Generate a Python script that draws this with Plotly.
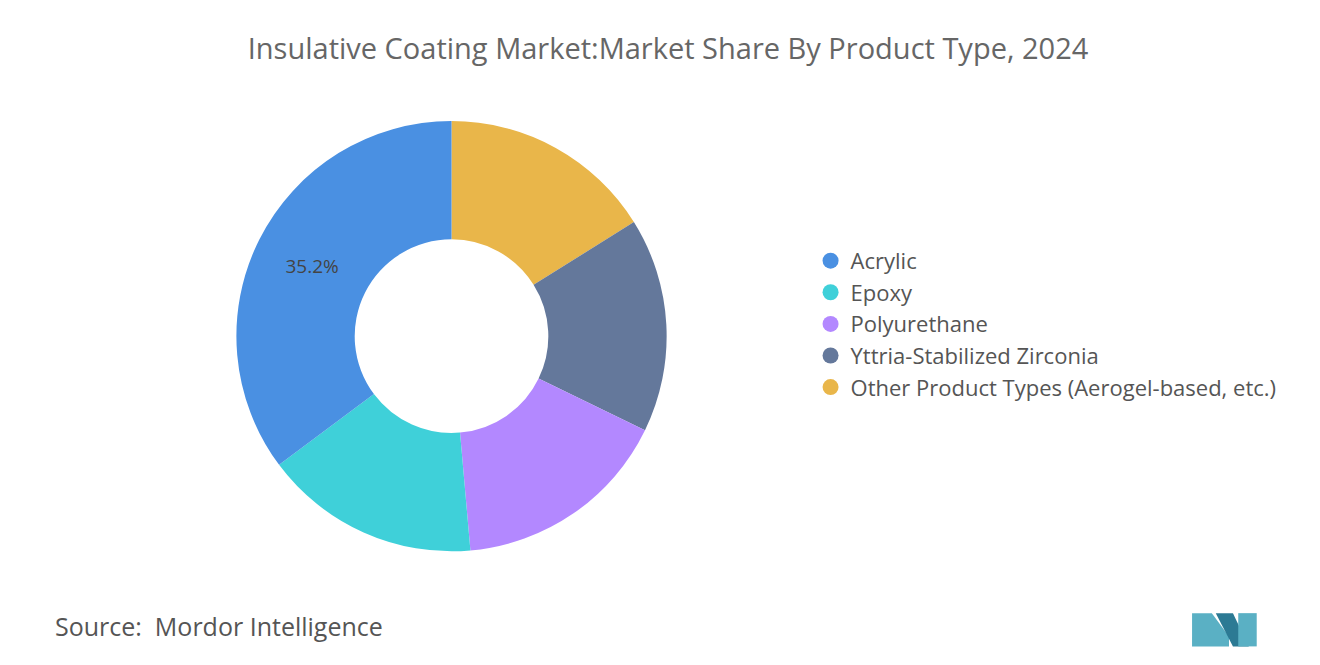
import plotly.graph_objects as go

labels = ["Acrylic", "Epoxy", "Polyurethane", "Yttria-Stabilized Zirconia",
          "Other Product Types (Aerogel-based, etc.)"]
values = [35.2, 16.2, 16.4, 16.1, 16.1]
colors = ["#4a90e2", "#3fd0d9", "#b388ff", "#64789b", "#e9b64a"]
shown = ["35.2%", "", "", "", ""]

# drawn clockwise from 12 o'clock in reverse order = counterclockwise in listed order
fig = go.Figure(go.Pie(
    labels=labels[::-1], values=values[::-1], hole=0.45, sort=False, direction="clockwise",
    rotation=0, marker=dict(colors=colors[::-1], line=dict(color="white", width=0)),
    text=shown[::-1], texttemplate="%{text}", textinfo="text", textposition="inside",
    insidetextorientation="horizontal", textfont=dict(size=19, color="#444"),
    domain=dict(x=[0.173, 0.499], y=[0.183, 0.83]), hoverinfo="label+percent",
    showlegend=False))

for l, c in zip(labels, colors):
    fig.add_trace(go.Scatter(x=[None], y=[None], mode="markers", name=l,
                             marker=dict(symbol="circle", size=22, color=c)))

fig.update_layout(
    width=1320, height=665, margin=dict(l=0, r=0, t=0, b=0),
    paper_bgcolor="white", plot_bgcolor="white",
    xaxis=dict(visible=False), yaxis=dict(visible=False),
    font=dict(family="Open Sans, sans-serif", color="#555"),
    title=dict(text="Insulative Coating Market:Market Share By Product Type, 2024",
               x=0.5, xanchor="center", y=0.938, yanchor="middle",
               font=dict(size=29, color="#666")),
    legend=dict(x=0.608, y=0.525, xanchor="left", yanchor="middle",
                font=dict(size=22, color="#555"), itemwidth=30, tracegroupgap=0),
    annotations=[dict(text="Source:  Mordor Intelligence", x=0.034, y=0.071,
                      xref="paper", yref="paper", xanchor="left", yanchor="middle",
                      showarrow=False, font=dict(size=25, color="#555"))],
    shapes=[
        dict(type="path", xref="paper", yref="paper", fillcolor="#5ab0c4", line=dict(width=0),
             path="M 0.897 0.04 L 0.897 0.09 L 0.912 0.09 L 0.925 0.055 L 0.925 0.04 Z"),
        dict(type="path", xref="paper", yref="paper", fillcolor="#2c7a94", line=dict(width=0),
             path="M 0.915 0.09 L 0.928 0.09 L 0.94 0.04 L 0.928 0.04 Z"),
        dict(type="path", xref="paper", yref="paper", fillcolor="#5ab0c4", line=dict(width=0),
             path="M 0.932 0.09 L 0.946 0.09 L 0.946 0.04 L 0.932 0.04 Z"),
    ],
)
fig.write_html("out.html")
